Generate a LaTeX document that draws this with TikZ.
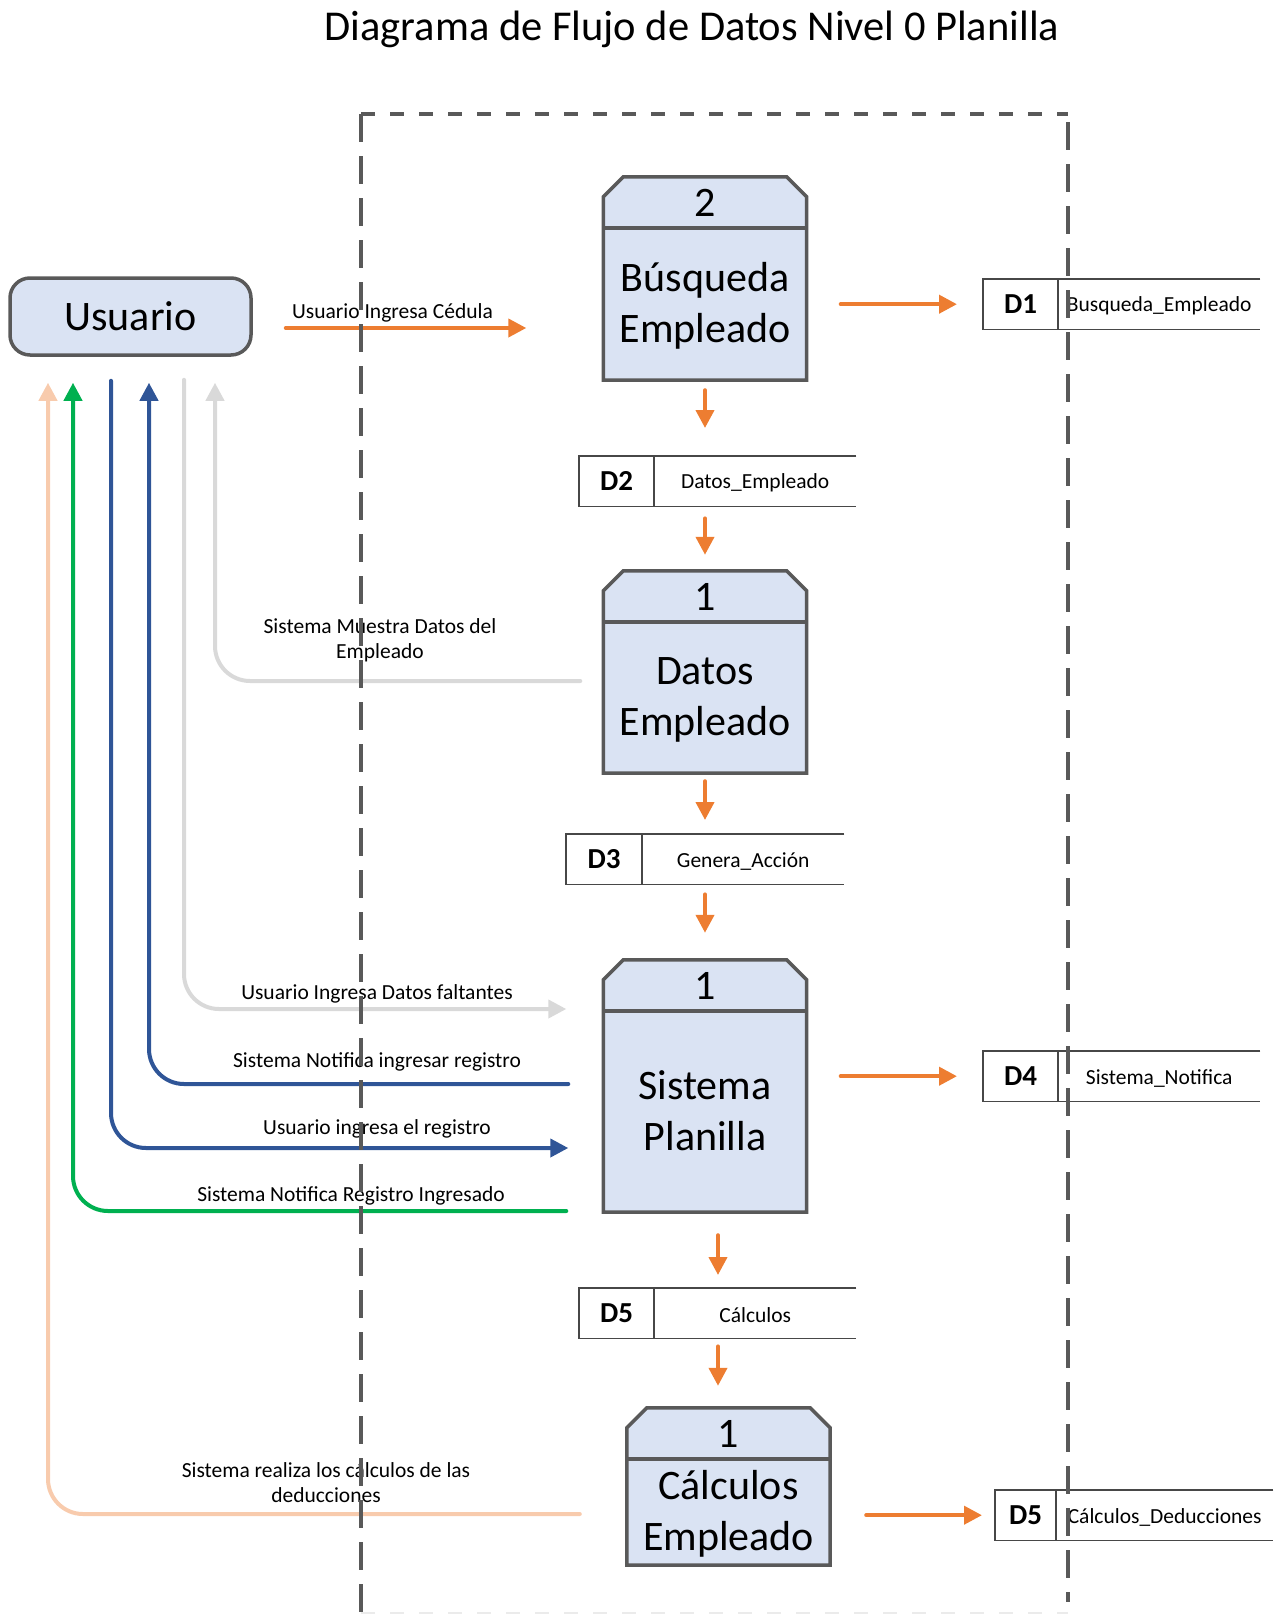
\documentclass[tikz,border=0pt]{standalone}
\usepackage{fontspec}
\setmainfont{Carlito}
\usetikzlibrary{arrows.meta,calc}

\definecolor{edgegrey}{HTML}{595959}
\definecolor{procfill}{HTML}{DAE3F3}
\definecolor{floworange}{HTML}{ED7D31}
\definecolor{flowblue}{HTML}{2F5597}
\definecolor{flowgreen}{HTML}{00B050}
\definecolor{flowgrey}{HTML}{D9D9D9}
\definecolor{flowpeach}{HTML}{F8CBAD}

\tikzset{
  procarea/.style={rectangle, inner sep=0pt, minimum width=203pt},
  procedge/.style={draw=edgegrey, line width=3.5pt, fill=procfill},
  proctext/.style={align=center, inner sep=0pt, font=\fontsize{42}{51}\selectfont},
  numtext/.style={inner sep=0pt, font=\fontsize{42}{51}\selectfont},
  userbox/.style={rectangle, rounded corners=20pt, draw=edgegrey, line width=3.5pt,
    fill=procfill, minimum width=241pt, minimum height=77pt, inner sep=0pt,
    font=\fontsize{42}{50}\selectfont},
  storearea/.style={rectangle, inner sep=0pt, minimum height=50pt},
  storeedge/.style={draw=edgegrey!80!black, line width=1.5pt},
  storeid/.style={inner sep=0pt, font=\fontsize{29}{34}\selectfont\bfseries},
  storelabel/.style={inner sep=0pt, yshift=-2pt, font=\fontsize{21.5}{25}\selectfont},
  flowlabel/.style={inner sep=0pt, align=center, font=\fontsize{21.5}{25}\selectfont},
  flowtip/.style={-{Triangle[length=18pt,width=18pt]}},
  flow/.style={draw=floworange, line width=4pt, line cap=round, flowtip},
  backflow/.style={line width=4pt, line cap=round, rounded corners=35pt, flowtip},
  boundary/.style={draw=edgegrey, line width=3.5pt},
}

% process box: name, centre x, top y, bottom y, number, label, label shift
\newcommand{\procbox}[7]{%
  \node[procarea, minimum height={#4-#3}] (#1) at (#2,{(#3+#4)/2}) {};
  \filldraw[procedge] (#1.south west) -- ([yshift=-20pt]#1.north west)
    -- ([xshift=20pt]#1.north west) -- ([xshift=-20pt]#1.north east)
    -- ([yshift=-20pt]#1.north east) -- (#1.south east) -- cycle;
  \draw[procedge] ([yshift=-51pt]#1.north west) -- ([yshift=-51pt]#1.north east);
  \node[numtext] (#1-num) at ([yshift=-26.5pt]#1.north) {#5};
  \node[proctext, yshift=#7] (#1-txt) at ($(#1.south)!0.5!([yshift=-51pt]#1.north)$) {#6};
}

% data store: name, left x, top y, id width, total width, id, label
\newcommand{\datastore}[7]{%
  \node[storearea, minimum width=#5pt, anchor=north west] (#1) at (#2,#3) {};
  \draw[storeedge] (#1.north east) -- (#1.north west) -- (#1.south west) -- (#1.south east);
  \draw[storeedge] ([xshift=#4pt]#1.north west) -- ([xshift=#4pt]#1.south west);
  \node[storeid] (#1-id) at ($(#1.west)+(#4/2,0)$) {#6};
  \node[storelabel] (#1-lbl) at ($([xshift=#4pt]#1.west)!0.5!(#1.east)$) {#7};
}

\begin{document}
\begin{tikzpicture}[x=1pt,y=-1pt]
\useasboundingbox (0,0) rectangle (1274,1614);

% title
\node[font=\fontsize{42.5}{50}\selectfont, inner sep=0pt] (title) at (692,29)
  {Diagrama de Flujo de Datos Nivel 0 Planilla};

% external entity
\node[userbox] (usr) at (130.5,316.5) {Usuario};

% processes
\procbox{pbus}{705}{177}{380}{2}{Búsqueda\\Empleado}{-2pt}
\procbox{pdat}{705}{571}{773}{1}{Datos\\Empleado}{-2pt}
\procbox{psis}{705}{960}{1212}{1}{Sistema\\Planilla}{1pt}
\procbox{pcal}{728.5}{1408}{1565}{1}{Cálculos\\Empleado}{-2pt}

% data stores
\datastore{dbus}{983}{279}{75}{277}{D1}{Busqueda\_Empleado}
\datastore{ddat}{579}{456}{75}{277}{D2}{Datos\_Empleado}
\datastore{dgen}{566}{834}{76}{278}{D3}{Genera\_Acción}
\datastore{dnot}{983}{1051}{75}{277}{D4}{Sistema\_Notifica}
\datastore{dcal}{579}{1288}{75}{277}{D5}{Cálculos}
\datastore{dded}{995}{1490}{61}{278}{D5}{Cálculos\_Deducciones}

% main flow (orange)
\draw[flow, shorten <=33pt, shorten >=77pt] ([yshift=-11.5pt]usr.east) -- ([yshift=-11.5pt]usr.east -| pbus.west);
\draw[flow, shorten <=34pt, shorten >=26pt] (pbus.east |- dbus.west) -- (dbus.west);
\draw[flow, shorten <=10pt, shorten >=28pt] (pbus.south) -- (pbus.south |- ddat.north);
\draw[flow, shorten <=12pt, shorten >=16pt] (pbus.south |- ddat.south) -- (pdat.north);
\draw[flow, shorten <=8pt, shorten >=14pt] (pdat.south) -- (pdat.south |- dgen.north);
\draw[flow, shorten <=10pt, shorten >=27pt] (pdat.south |- dgen.south) -- (psis.north);
\draw[flow, shorten <=34pt, shorten >=26pt] (psis.east |- dnot.west) -- (dnot.west);
\draw[flow, shorten <=23pt, shorten >=13pt] ([xshift=13pt]psis.south) -- ([xshift=13pt]psis.south |- dcal.north);
\draw[flow, shorten <=8pt, shorten >=22pt] ([xshift=13pt]psis.south |- dcal.south) -- ([xshift=13pt]psis.south |- pcal.north);
\draw[flow, shorten <=36pt, shorten >=13pt] (pcal.east |- dded.west) -- (dded.west);

% flows between the user and the processes
\draw[backflow, draw=flowgrey, shorten <=23pt, shorten >=26pt] ([yshift=-9pt]pdat.west) -| ([xshift=84.5pt]usr.south);
\draw[backflow, draw=flowgrey, shorten <=23pt, shorten >=37pt] ([xshift=53.5pt]usr.south) |- ([yshift=77pt]psis.west);
\draw[backflow, draw=flowblue, shorten <=35pt, shorten >=26pt] ([yshift=2pt]psis.west) -| ([xshift=18.5pt]usr.south);
\draw[backflow, draw=flowblue, shorten <=24pt, shorten >=35pt] ([xshift=-19.5pt]usr.south) |- ([yshift=-62pt]psis.west);
\draw[backflow, draw=flowgreen, shorten <=37pt, shorten >=26pt] ([yshift=-125pt]psis.west) -| ([xshift=-57.5pt]usr.south);
\draw[backflow, draw=flowpeach, shorten <=47pt, shorten >=26pt] ([yshift=-27.5pt]pcal.west) -| ([xshift=-82.5pt]usr.south);

% flow labels
\node[flowlabel] (lced) at (392.5,313) {Usuario Ingresa Cédula};
\node[flowlabel] (lmue) at (380,640.5) {Sistema Muestra Datos del\\Empleado};
\node[flowlabel] (lfal) at (377,994) {Usuario Ingresa Datos faltantes};
\node[flowlabel] (lnot) at (377,1062) {Sistema Notifica ingresar registro};
\node[flowlabel] (lreg) at (377,1129) {Usuario ingresa el registro};
\node[flowlabel] (ling) at (351,1196) {Sistema Notifica Registro Ingresado};
\node[flowlabel] (lcal) at (326,1483) {Sistema realiza los cálculos de las\\deducciones};

% system boundary
\draw[boundary, dash pattern=on 28pt off 14pt] (361,114) -- (361,1620);
\draw[boundary, dash pattern=on 14pt off 15pt] (361,114) -- (1068,114);
\draw[boundary, dash pattern=on 28pt off 14pt] (1068,122) -- (1068,1602);
\draw[boundary, draw=edgegrey!12, line width=2pt, dash pattern=on 14pt off 15pt] (361,1613) -- (1068,1613);
\end{tikzpicture}
\end{document}
